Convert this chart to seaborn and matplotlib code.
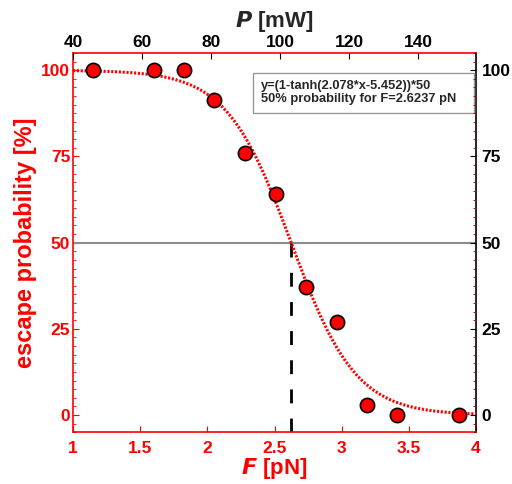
#!/usr/bin/env python3

import numpy as np
import pandas as pd
import matplotlib
matplotlib.use('Agg')
import matplotlib.pyplot as plt
import seaborn as sns
from matplotlib.patches import Rectangle
from matplotlib.ticker import MultipleLocator

# measured points
force_pn = [1.147, 1.60, 1.825, 2.048, 2.284, 2.51, 2.738, 2.966, 3.19, 3.415, 3.874]
escape_pct = [100, 100, 100, 91.3, 76.0, 64.1, 37.2, 27.1, 3.0, 0.1, 0.0]

# fit parameters (from the annotation)
fit_a = 2.078
fit_b = 5.452
f_half = 2.6237

# top axis (laser power)
power_ticks = [40, 60, 80, 100, 120, 140]
power_range = (40, 156.8)

RED = '#ff0000'
TICK_FS = 12.5
LABEL_FS = 16


def setup_plot_style():
    sns.set_style('white')
    plt.rcParams['font.family'] = ['Liberation Sans', 'DejaVu Sans']
    plt.rcParams['font.weight'] = 'bold'
    plt.rcParams['axes.labelweight'] = 'bold'


def main():
    setup_plot_style()

    fig = plt.figure(figsize=(5.12, 4.84), dpi=100)
    ax = fig.add_axes([0.1426, 0.1068, 0.7871, 0.7837])

    df = pd.DataFrame({'F': force_pn, 'p': escape_pct})
    x_fit = np.linspace(1, 4, 400)
    fit_df = pd.DataFrame({'F': x_fit, 'p': (1 - np.tanh(fit_a * x_fit - fit_b)) * 50})

    ax.axhline(50, color='#8c8c8c', lw=1.5, zorder=1)
    ax.plot([f_half, f_half], [-5, 50], color='black', lw=2, dashes=(5, 5.5), zorder=2)
    sns.lineplot(data=fit_df, x='F', y='p', ax=ax, color=RED, lw=2.2, dashes=False, zorder=3)
    ax.lines[-1].set_dashes((0.7, 0.55))
    sns.scatterplot(data=df, x='F', y='p', ax=ax, s=105, color=RED, edgecolor='black',
                    linewidth=1.2, zorder=4, clip_on=False)

    ax.set_xlim(1, 4)
    ax.set_ylim(-5, 105)
    ax.set_xticks([1, 1.5, 2, 2.5, 3, 3.5, 4])
    ax.set_xticklabels(['1', '1.5', '2', '2.5', '3', '3.5', '4'])
    ax.set_yticks([0, 25, 50, 75, 100])
    ax.yaxis.set_minor_locator(MultipleLocator(2.5))
    ax.tick_params(axis='both', which='both', direction='in', colors=RED, labelsize=TICK_FS,
                   top=True, right=False)
    ax.tick_params(axis='x', which='major', length=4, pad=6)
    ax.tick_params(axis='y', which='major', length=4, pad=2)
    ax.tick_params(axis='y', which='minor', length=2)
    for lab in ax.get_xticklabels() + ax.get_yticklabels():
        lab.set_fontweight('bold')
        lab.set_color(RED)

    ax.set_xlabel('$\\mathbfit{F}$ [pN]', color=RED, fontsize=LABEL_FS, labelpad=0)
    ax.set_ylabel('escape probability [%]', color=RED, fontsize=17, labelpad=3)

    for side in ['left', 'bottom', 'top']:
        ax.spines[side].set_color(RED)
        ax.spines[side].set_linewidth(1.2)
    ax.spines['right'].set_color('black')
    ax.spines['right'].set_linewidth(1.2)

    # right axis
    ax2 = ax.twinx()
    ax2.set_ylim(-5, 105)
    ax2.set_yticks([0, 25, 50, 75, 100])
    ax2.yaxis.set_minor_locator(MultipleLocator(2.5))
    ax2.tick_params(axis='y', which='major', direction='in', colors='black', length=4,
                    labelsize=TICK_FS, pad=4)
    ax2.tick_params(axis='y', which='minor', direction='in', color='#a00000', length=2)
    for lab in ax2.get_yticklabels():
        lab.set_fontweight('bold')
    for s in ax2.spines.values():
        s.set_visible(False)

    # top axis
    ax3 = ax.twiny()
    ax3.set_xlim(*power_range)
    ax3.set_xticks(power_ticks)
    ax3.tick_params(axis='x', which='major', direction='in', colors='black', length=4,
                    labelsize=TICK_FS, pad=2)
    for lab in ax3.get_xticklabels():
        lab.set_fontweight('bold')
    for s in ax3.spines.values():
        s.set_visible(False)
    ax3.set_xlabel('$\\mathbfit{P}$ [mW]', fontsize=LABEL_FS, labelpad=6)

    # annotation box
    ax.add_patch(Rectangle((0.447, 0.842), 0.548, 0.1055, transform=ax.transAxes,
                           fc='white', ec='#999999', lw=1, zorder=5))
    txt = 'y=(1-tanh({:.3f}*x-{:.3f}))*50\n50% probability for F={:.4f} pN'.format(
        fit_a, fit_b, f_half)
    ax.text(0.466, 0.895, txt, transform=ax.transAxes, fontsize=9.3, fontweight='bold',
            va='center', ha='left', linespacing=1.1, zorder=6)

    fig.savefig('out.png', dpi=100)
    plt.close(fig)


if __name__ == '__main__':
    main()
